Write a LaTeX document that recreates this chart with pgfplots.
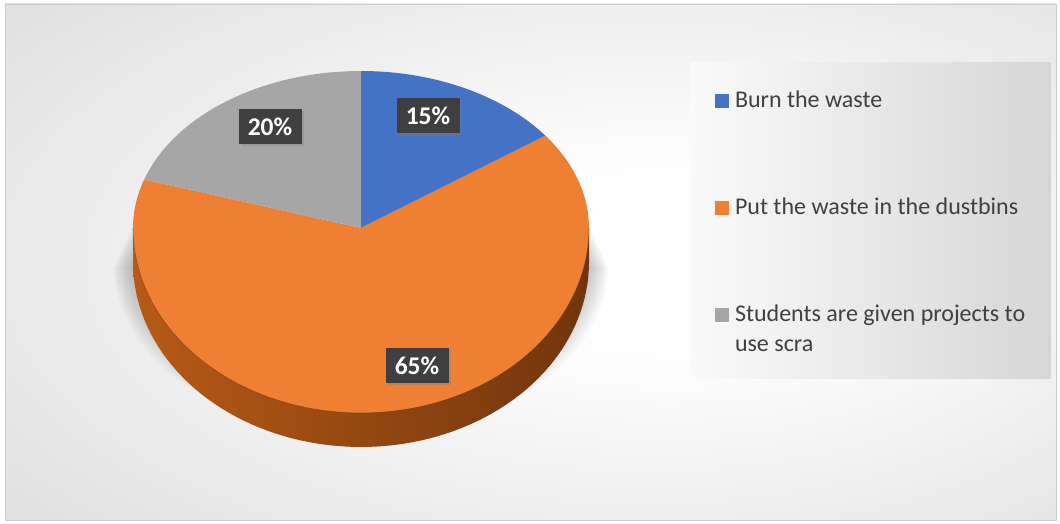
\documentclass[border=0pt]{standalone}
\usepackage{pgfplots}
\pgfplotsset{compat=1.18}
\usepackage{pgfplotstable}
\usepackage{fontspec}
\setmainfont{Carlito}
\usetikzlibrary{shadows}
\definecolor{cblue}{HTML}{4472C4}
\definecolor{corange}{HTML}{EE7F33}
\definecolor{cgray}{HTML}{A6A6A6}
\definecolor{lblbg}{HTML}{3F3F3F}
\definecolor{legtext}{HTML}{404040}
\definecolor{sideL}{HTML}{B85A16}
\definecolor{sideM}{HTML}{A04A10}
\definecolor{sideR}{HTML}{70350D}
\pgfdeclareradialshading{bgshade}{\pgfpoint{8bp}{0bp}}{color(0bp)=(white); color(8bp)=(white); color(28bp)=(black!8); color(50bp)=(black!17); color(71bp)=(black!22)}

\pgfplotstableread{
share
15
65
20
}\piedata
\pgfplotstablegetelem{0}{share}\of\piedata \let\vA\pgfplotsretval
\pgfplotstablegetelem{1}{share}\of\piedata \let\vB\pgfplotsretval
\pgfplotstablegetelem{2}{share}\of\piedata \let\vC\pgfplotsretval
\pgfmathsetmacro{\aZ}{90}
\pgfmathsetmacro{\aA}{\aZ-3.6*\vA}
\pgfmathsetmacro{\aB}{\aA-3.6*\vB}
\pgfmathsetmacro{\aC}{\aB-3.6*\vC}

\begin{document}
\begin{tikzpicture}
\begin{axis}[
  scale only axis, width=1060bp, height=524bp,
  xmin=0, xmax=1060, ymin=0, ymax=524,
  hide axis, clip=false,
  legend style={at={(axis cs:715,434)}, anchor=north west, draw=none, fill=none,
    inner sep=0pt, outer sep=0pt, row sep=83bp, column sep=6bp,
    font=\fontsize{24bp}{30bp}\selectfont, text=legtext,
    nodes={text height=18bp, text depth=6bp, inner sep=0pt},
    cells={anchor=base west}},
  legend image code/.code={\fill[#1] (0bp,0bp) rectangle (14bp,14bp);},
]
% background
\fill[white] (axis cs:0,0) rectangle (axis cs:1060,524);
\path[shading=bgshade, draw=black!20, line width=0.8bp] (axis cs:5,4) rectangle (axis cs:1056,520);
% legend panel
\path[shading=axis, left color=white!98!black, right color=black!16] (axis cs:690,145) rectangle (axis cs:1051,461);
% soft shadow around the pie body
\pgfplotsinvokeforeach{1,...,12}{
  \fill[black, opacity=0.022] (axis cs:{133-1.6*#1},{300-3.5*#1}) arc[start angle=180, end angle=360, x radius={228bp+1.6bp*#1}, y radius={187bp-1.5bp*#1}] -- cycle;
}
% side wall
\addplot[forget plot, draw=none, shading=axis, left color=sideL, middle color=sideM, right color=sideR,
  domain=180:360, samples=80, variable=\t]
  ({361+228*cos(\t)},{262+185*sin(\t)}) -- (axis cs:589,296) -- (axis cs:133,296) -- cycle;
% top face slices
\addplot[fill=cblue, draw=none, domain=\aA:\aZ, samples=40, variable=\t]
  ({361+228*cos(\t)},{296+(sin(\t)>0?157:185)*sin(\t)}) -- (axis cs:361,296) -- cycle;
\addlegendentry{Burn the waste}
\addplot[fill=corange, draw=none, domain=\aB:\aA, samples=160, variable=\t]
  ({361+228*cos(\t)},{296+(sin(\t)>0?157:185)*sin(\t)}) -- (axis cs:361,296) -- cycle;
\addlegendentry{Put the waste in the dustbins}
\addplot[fill=cgray, draw=none, domain=\aC:\aB, samples=40, variable=\t]
  ({361+228*cos(\t)},{296+(sin(\t)>0?157:185)*sin(\t)}) -- (axis cs:361,296) -- cycle;
\addlegendentry{\begin{tabular}[t]{@{}l@{}}Students are given projects to\\use scra\end{tabular}}
% rim between top face and side
\addplot[forget plot, draw=black!60!brown, line width=0.6bp, opacity=0.5, domain=180:360, samples=80, variable=\t]
  ({361+228*cos(\t)},{296+185*sin(\t)});
% data labels
\tikzset{lbl/.style={fill=lblbg, text=white, font=\fontsize{25.5bp}{30bp}\selectfont\bfseries,
  minimum width=63bp, minimum height=35bp, inner sep=0pt,
  drop shadow={opacity=0.35, shadow xshift=2bp, shadow yshift=-2bp}}}
\node[lbl] at (axis cs:428,408) {\vA\%};
\node[lbl] at (axis cs:270,397) {\vC\%};
\node[lbl] at (axis cs:417,158) {\vB\%};
\end{axis}
\end{tikzpicture}
\end{document}
